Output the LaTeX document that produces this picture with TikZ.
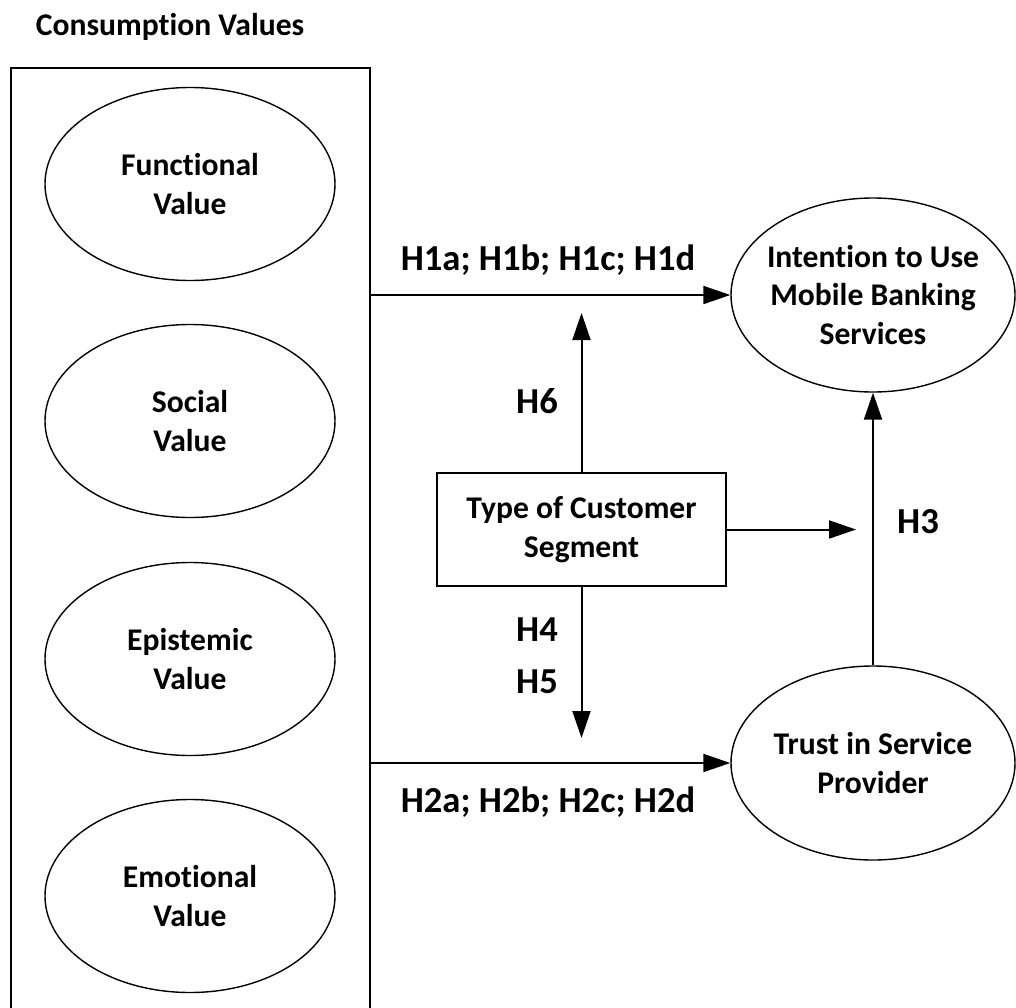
\documentclass[tikz,border=0pt]{standalone}
\usepackage{fontspec}
\setmainfont{Carlito}[RawFeature={-liga}]
\usetikzlibrary{shapes.geometric,arrows.meta}
\begin{document}
\begin{tikzpicture}[x=0.5pt,y=-0.5pt,
  txt/.style={font=\bfseries\fontsize{15.8}{19.3}\selectfont, align=center, inner sep=0pt},
  hyp/.style={font=\bfseries\fontsize{18.3}{22}\selectfont, inner sep=0pt, anchor=base},
  oval/.style={draw, ellipse, line width=0.7pt, inner sep=0pt, minimum width=145pt, minimum height=96.5pt},
  arr/.style={line width=1pt, -{Triangle[length=13.5pt,width=9pt]}},
]
\useasboundingbox (0,0) rectangle (1016,1007);
\clip (0,0) rectangle (1016,1007);
\node[draw, line width=1pt, minimum width=179.5pt, minimum height=490pt, inner sep=0pt, anchor=north west] (cv) at (10,67) {};
\node[txt, anchor=base] (title) at (170,35) {Consumption Values};

\node[oval] (func) at (190,184) {};
\node[txt] (funct) at (func) {Functional\\Value};
\node[oval] (soc) at (190,421) {};
\node[txt] (soct) at (soc) {Social\\Value};
\node[oval] (epi) at (190,659) {};
\node[txt] (epit) at (epi) {Epistemic\\Value};
\node[oval] (emo) at (190,896) {};
\node[txt] (emot) at (emo) {Emotional\\Value};

\node[oval, minimum width=142pt, minimum height=97pt] (intent) at (873,295) {};
\node[txt] (intentt) at (intent) {Intention to Use\\Mobile Banking\\Services};
\node[oval, minimum width=142pt, minimum height=97pt] (trust) at (873,763) {};
\node[txt] (trustt) at (trust) {Trust in Service\\Provider};

\node[txt, draw, line width=1pt, minimum width=144.5pt, minimum height=56.5pt] (seg) at (581.5,529.5) {Type of Customer\\Segment};

\coordinate (h6tip) at (581.5,313);
\coordinate (h5tip) at (581.5,738);
\coordinate (segtip) at (856,529.5);

\draw[arr] (cv.east |- intent.west) -- (intent.west);
\draw[arr] (cv.east |- trust.west) -- (trust.west);
\draw[arr] (trust.north) -- (intent.south);
\draw[arr] (seg.north) -- (h6tip);
\draw[arr] (seg.south) -- (h5tip);
\draw[arr] (seg.east) -- (segtip);

\node[hyp] (h1) at (548,270) {H1a; H1b; H1c; H1d};
\node[hyp] (h6) at (537,413) {H6};
\node[hyp] (h4) at (537,641) {H4};
\node[hyp] (h5) at (537,693) {H5};
\node[hyp] (h3) at (918,533) {H3};
\node[hyp] (h2) at (548,812) {H2a; H2b; H2c; H2d};
\end{tikzpicture}
\end{document}
